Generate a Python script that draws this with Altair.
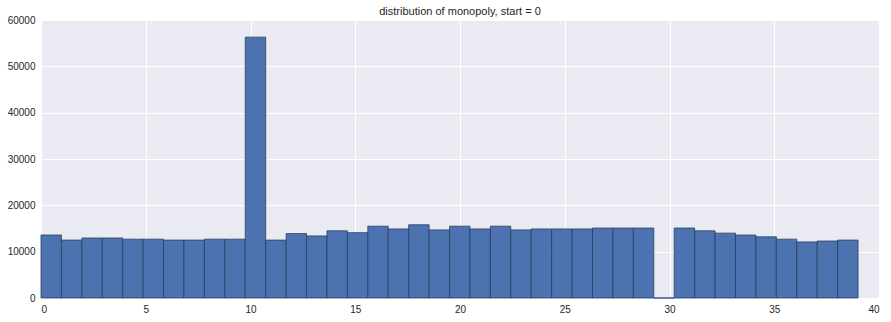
import altair as alt
import pandas as pd

positions = list(range(40))
counts = [13600, 12500, 12950, 12950, 12700, 12700, 12500, 12500, 12700, 12700,
          56300, 12500, 13900, 13400, 14500, 14100, 15500, 14900, 15800, 14700,
          15500, 14900, 15500, 14700, 14900, 14900, 14900, 15100, 15100, 15100,
          0, 15100, 14500, 14000, 13600, 13200, 12700, 12100, 12300, 12500]
bin_width = 39 / 40

df = pd.DataFrame({"pos": positions, "count": counts})
df["start"] = df["pos"] * bin_width
df["end"] = (df["pos"] + 1) * bin_width
df["base"] = 0

chart = alt.Chart(df).mark_rect(
    color="#4C72B0", stroke="#2a3f5f", strokeWidth=1, strokeOpacity=0.8
).encode(
    x=alt.X("start:Q", scale=alt.Scale(domain=[0, 40], nice=False, zero=False, padding=0),
            axis=alt.Axis(values=[0, 5, 10, 15, 20, 25, 30, 35, 40], title=None,
                          format="d")),
    x2="end:Q",
    y=alt.Y("count:Q", scale=alt.Scale(domain=[0, 60000], nice=False, padding=0),
            axis=alt.Axis(values=[0, 10000, 20000, 30000, 40000, 50000, 60000],
                          title=None, format="d")),
    y2="base:Q",
).properties(
    width=838, height=278,
    title=alt.TitleParams("distribution of monopoly, start = 0", fontSize=11,
                          fontWeight="normal", font="Liberation Sans",
                          color="#262626", offset=-2),
    padding={"left": 41, "top": 20, "right": 12, "bottom": 24},
    autosize=alt.AutoSizeParams(type="none"),
).configure_view(
    fill="#EAEAF2", stroke=None
).configure_axis(
    domain=False, ticks=False, grid=True, gridColor="white", gridWidth=1,
    labelFont="Liberation Sans", labelFontSize=10, labelColor="#262626",
).configure_axisX(labelPadding=6).configure_axisY(labelPadding=6)

chart.save("out.html", embed_options={"renderer": "svg", "actions": False})
